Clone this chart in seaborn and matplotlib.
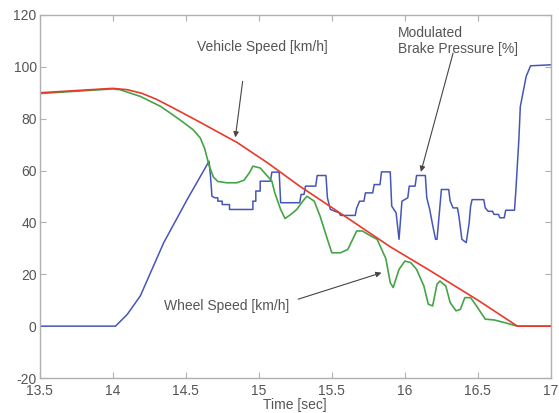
import matplotlib
matplotlib.use("Agg")
import matplotlib.pyplot as plt
import seaborn as sns
import pandas as pd

# ---- data ----
t_vehicle = [13.5, 14.0, 14.1, 14.2, 14.3, 14.4, 14.5, 14.6, 14.7, 14.85, 15.06, 15.28,
             15.6, 15.9, 16.17, 16.5, 16.77, 17.0]
vehicle_speed = [90.0, 91.7, 91.2, 89.8, 87.5, 84.6, 81.6, 78.6, 75.5, 70.9, 63.0, 54.0,
                 42.0, 30.6, 21.5, 10.0, 0.0, 0.0]

t_wheel = [13.5, 14.0, 14.05, 14.19, 14.33, 14.46, 14.55, 14.60, 14.63, 14.66, 14.69, 14.72,
           14.78, 14.85, 14.90, 14.94, 14.96, 15.01, 15.07, 15.09, 15.11, 15.15, 15.18, 15.22,
           15.26, 15.31, 15.33, 15.38, 15.42, 15.47, 15.50, 15.56, 15.61, 15.67, 15.71, 15.76,
           15.81, 15.87, 15.90, 15.92, 15.96, 16.00, 16.04, 16.08, 16.13, 16.16, 16.19, 16.22,
           16.24, 16.28, 16.31, 16.35, 16.38, 16.41, 16.45, 16.49, 16.55, 16.61, 16.68, 16.77,
           17.0]
wheel_speed = [89.7, 91.5, 91.2, 88.6, 84.7, 79.6, 75.8, 72.6, 68.5, 62.0, 57.5, 55.8,
               55.3, 55.3, 56.3, 59.5, 61.7, 61.0, 57.2, 55.9, 51.4, 45.0, 41.5, 43.1,
               45.0, 48.8, 50.1, 48.2, 42.4, 33.5, 28.3, 28.3, 29.6, 36.7, 36.7, 35.0,
               33.5, 26.0, 16.8, 14.9, 21.9, 25.1, 24.5, 21.9, 15.5, 8.5, 7.8, 16.2,
               17.4, 15.5, 9.1, 5.9, 6.5, 11.0, 11.0, 7.8, 2.7, 2.4, 1.4, 0.0,
               0.0]

t_pressure = [13.5, 14.02, 14.10, 14.19, 14.35, 14.51, 14.66, 14.67, 14.68, 14.70,
              14.72, 14.72, 14.75, 14.75, 14.80, 14.80, 14.96,
              14.96, 14.98, 14.98, 15.01, 15.01, 15.08, 15.09, 15.14, 15.15, 15.28,
              15.29, 15.31, 15.32, 15.39, 15.40, 15.46, 15.47, 15.49, 15.55, 15.56, 15.66,
              15.67, 15.69, 15.72, 15.73, 15.78, 15.79, 15.83, 15.84, 15.90, 15.91, 15.94,
              15.96, 15.98, 16.02, 16.03, 16.07, 16.08, 16.14, 16.15, 16.17, 16.19, 16.21,
              16.22, 16.24, 16.25, 16.30, 16.31, 16.33, 16.36, 16.37, 16.39, 16.42, 16.44,
              16.45, 16.46, 16.54, 16.55, 16.57, 16.60, 16.61, 16.64, 16.65, 16.68, 16.69,
              16.75, 16.76, 16.78, 16.79, 16.83, 16.86, 17.0]
brake_pressure = [0.0, 0.0, 4.5, 11.7, 32.2, 48.8, 63.6, 57.8, 50.1, 49.5,
                  49.5, 48.2, 48.2, 46.9, 46.9, 45.0, 45.0,
                  48.2, 48.2, 52.1, 52.1, 55.9, 55.9, 59.4, 59.4, 47.6, 47.6,
                  50.8, 50.8, 54.0, 54.0, 58.1, 58.1, 49.5, 45.0, 43.7, 42.7, 42.7,
                  45.5, 48.2, 48.2, 51.4, 51.4, 54.6, 54.6, 59.5, 59.5, 46.3, 43.7,
                  33.5, 48.2, 49.5, 54.0, 54.0, 58.1, 58.1, 49.5, 45.0, 39.0, 33.5,
                  33.5, 46.3, 52.7, 52.7, 48.2, 45.6, 45.6, 42.4, 33.5, 32.2, 39.9,
                  46.3, 48.8, 48.8, 45.6, 44.3, 44.3, 43.1, 43.1, 41.8, 41.8, 44.7,
                  44.7, 52.7, 71.9, 84.7, 96.3, 100.4, 100.8]

x_ticks = [13.5, 14, 14.5, 15, 15.5, 16, 16.5, 17]
x_tick_labels = ["13.5", "14", "14.5", "15", "15.5", "16", "16.5", "17"]
y_ticks = [-20, 0, 20, 40, 60, 80, 100, 120]
y_tick_labels = ["-20", "0", "20", "40", "60", "80", "100", "120"]

# ---- style ----
sns.set_style("white")
plt.rcParams["font.family"] = ["Liberation Sans", "DejaVu Sans"]
plt.rcParams["axes.unicode_minus"] = False

fig = plt.figure(figsize=(5.59, 4.13), dpi=100)
ax = fig.add_axes([0.0707, 0.0847, 0.915, 0.879])

df_p = pd.DataFrame({"t": t_pressure, "v": brake_pressure})
df_w = pd.DataFrame({"t": t_wheel, "v": wheel_speed})
df_v = pd.DataFrame({"t": t_vehicle, "v": vehicle_speed})

sns.lineplot(data=df_p, x="t", y="v", ax=ax, color="#4656b8", lw=1.1,
             estimator=None, sort=False)
sns.lineplot(data=df_w, x="t", y="v", ax=ax, color="#46a346", lw=1.2,
             estimator=None, sort=False)
sns.lineplot(data=df_v, x="t", y="v", ax=ax, color="#e8392a", lw=1.2,
             estimator=None, sort=False)

ax.set_xlim(13.5, 17)
ax.set_ylim(-20, 120)
ax.set_xticks(x_ticks)
ax.set_xticklabels(x_tick_labels)
ax.set_yticks(y_ticks)
ax.set_yticklabels(y_tick_labels)
ax.set_xlabel("Time [sec]", fontsize=10, color="#555555", labelpad=0)
ax.set_ylabel("")

for s in ax.spines.values():
    s.set_color("#b0b0b0")
    s.set_linewidth(1.0)
ax.tick_params(direction="in", length=4, width=0.8, colors="#b0b0b0",
               labelcolor="#555555", labelsize=10, top=True, right=True,
               bottom=True, left=True)
ax.tick_params(axis="y", pad=2)
ax.tick_params(axis="x", pad=4)

txt_color = "#555555"
arrow_kw = dict(arrowstyle="-|>", color="#4a4444", lw=0.8, mutation_scale=8,
                shrinkA=0, shrinkB=0)

ax.text(15.024, 107.8, "Vehicle Speed [km/h]", ha="center", va="center",
        fontsize=10, color=txt_color)
ax.annotate("", xy=(14.84, 72.8), xytext=(14.89, 94.4), arrowprops=arrow_kw)

ax.text(15.955, 110.0, "Modulated\nBrake Pressure [%]", ha="left", va="center",
        fontsize=10, color=txt_color, linespacing=1.2)
ax.annotate("", xy=(16.11, 59.5), xytext=(16.33, 105.3), arrowprops=arrow_kw)

ax.text(14.35, 7.7, "Wheel Speed [km/h]", ha="left", va="center",
        fontsize=10, color=txt_color)
ax.annotate("", xy=(15.84, 20.6), xytext=(15.27, 10.4), arrowprops=arrow_kw)

fig.savefig("out.png", dpi=100)
